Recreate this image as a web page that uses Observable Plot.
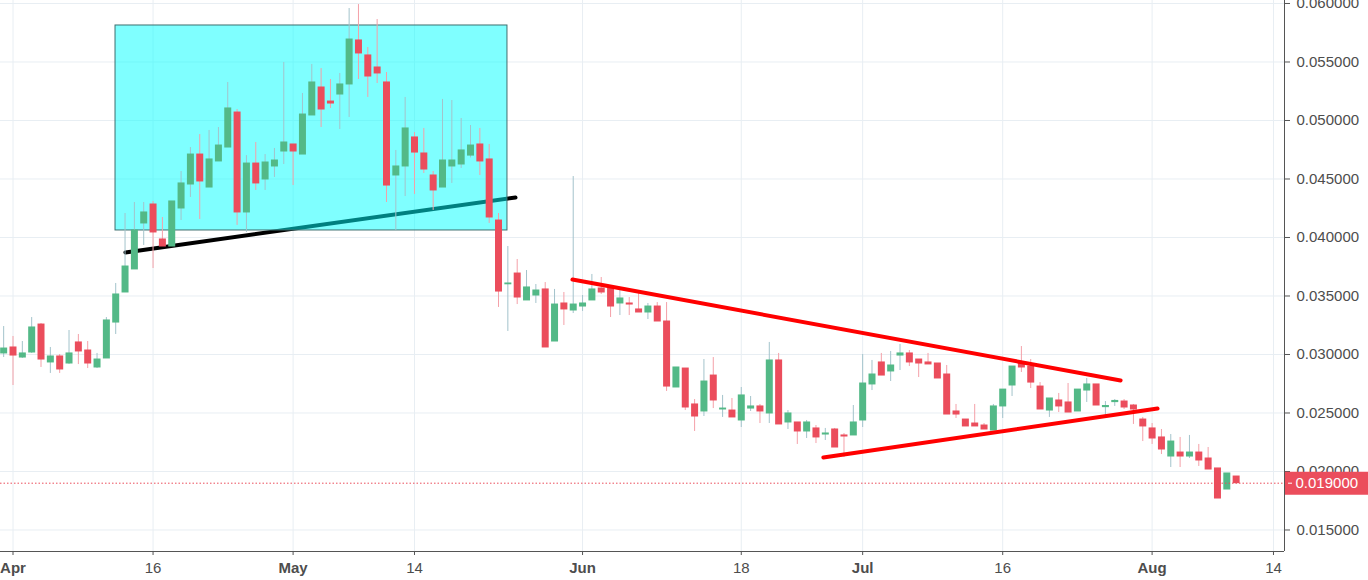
<!DOCTYPE html>
<html><head><meta charset="utf-8">
<script src="https://cdn.jsdelivr.net/npm/d3@7"></script>
<script src="https://cdn.jsdelivr.net/npm/@observablehq/plot@0.6"></script>
<style>html,body{margin:0;padding:0;background:#fff;} #chart svg{display:block}</style>
</head><body><div id="chart"></div>
<script>
// Daily candles starting 2018-03-31
const startDate = "2018-03-31";
const opens = [
0.03009,0.03060,0.02974,0.03017,0.03256,0.02932,0.02983,0.02923,0.03103,0.03034,0.02889,0.02966,0.03273,0.03530,0.03727,0.04120,0.04282,0.03983,0.03923,0.04248,0.04453,0.04709,0.04427,0.04650,0.04769,0.05068,0.04214,0.04632,0.04496,0.04607,0.04735,
0.04795,0.04709,0.05043,0.05282,0.05162,0.05222,0.05308,0.05684,0.05556,0.05453,0.05325,0.04530,0.04607,0.04855,0.04718,0.04530,0.04427,0.04607,0.04624,0.04700,0.04795,0.04667,0.04145,0.03600,0.03692,0.03462,0.03504,0.03556,0.03111,0.03436,0.03376,
0.03410,0.03462,0.03564,0.03564,0.03436,0.03436,0.03385,0.03359,0.03410,0.03282,0.02718,0.02880,0.02573,0.02513,0.02820,0.02530,0.02521,0.02436,0.02538,0.02556,0.02496,0.02949,0.02419,0.02419,0.02342,0.02368,0.02316,0.02359,0.02308,0.02308,
0.02436,0.02744,0.02932,0.02855,0.02991,0.03009,0.02957,0.02932,0.02923,0.02829,0.02513,0.02444,0.02410,0.02393,0.02350,0.02556,0.02735,0.02932,0.02897,0.02726,0.02521,0.02607,0.02590,0.02513,0.02692,0.02744,0.02550,0.02593,0.02598,0.02564,0.02444,
0.02368,0.02291,0.02128,0.02162,0.02128,0.02162,0.02111,0.02026,0.01846,0.01957];
const highs = [
0.03239,0.03154,0.03111,0.03316,0.03265,0.03060,0.03000,0.03205,0.03171,0.03111,0.03009,0.03316,0.03607,0.04205,0.04299,0.04299,0.04308,0.04171,0.04308,0.04564,0.04769,0.04880,0.04915,0.04940,0.05325,0.05094,0.04700,0.04812,0.04709,0.04761,0.05496,
0.04795,0.05231,0.05479,0.05444,0.05350,0.05402,0.05957,0.05991,0.05624,0.05863,0.05410,0.04744,0.05197,0.04897,0.04932,0.04564,0.05180,0.05171,0.05017,0.04957,0.04932,0.04795,0.04205,0.03923,0.03812,0.03718,0.03598,0.03615,0.03556,0.03530,0.04521,
0.03504,0.03684,0.03658,0.03580,0.03564,0.03487,0.03538,0.03436,0.03444,0.03444,0.02889,0.02880,0.02615,0.02957,0.02974,0.02650,0.02624,0.02718,0.02641,0.02573,0.03103,0.03009,0.02521,0.02419,0.02436,0.02393,0.02368,0.02368,0.02325,0.02564,
0.03000,0.02949,0.03009,0.03026,0.03086,0.03034,0.02957,0.03009,0.02923,0.02906,0.02573,0.02444,0.02573,0.02410,0.02573,0.02700,0.02897,0.03068,0.02957,0.02760,0.02624,0.02667,0.02752,0.02700,0.02795,0.02744,0.02598,0.02615,0.02615,0.02573,0.02462,
0.02410,0.02359,0.02316,0.02291,0.02308,0.02231,0.02205,0.02026,0.01983,0.01957];
const lows = [
0.02974,0.02735,0.02966,0.03009,0.02889,0.02838,0.02838,0.02915,0.02914,0.02880,0.02880,0.02966,0.03171,0.03530,0.03727,0.03932,0.03735,0.03923,0.03923,0.04145,0.04342,0.04154,0.04427,0.04650,0.04769,0.04103,0.04043,0.04402,0.04402,0.04513,0.04624,
0.04444,0.04709,0.05043,0.04940,0.05103,0.04923,0.05026,0.05350,0.05197,0.05316,0.04299,0.04060,0.04350,0.04368,0.04547,0.04231,0.04427,0.04462,0.04590,0.04680,0.04530,0.04120,0.03402,0.03197,0.03427,0.03462,0.03436,0.03060,0.03111,0.03248,0.03350,
0.03368,0.03462,0.03513,0.03316,0.03333,0.03333,0.03359,0.03299,0.03282,0.02684,0.02718,0.02521,0.02342,0.02470,0.02538,0.02462,0.02462,0.02376,0.02513,0.02410,0.02410,0.02402,0.02359,0.02231,0.02282,0.02239,0.02265,0.02205,0.02120,0.02308,
0.02376,0.02692,0.02820,0.02769,0.02863,0.02897,0.02803,0.02915,0.02795,0.02487,0.02453,0.02385,0.02385,0.02359,0.02350,0.02453,0.02641,0.02846,0.02709,0.02530,0.02462,0.02504,0.02504,0.02513,0.02590,0.02564,0.02470,0.02556,0.02530,0.02402,0.02256,
0.02231,0.02145,0.02034,0.02034,0.02111,0.02043,0.02017,0.01769,0.01846,0.01900];
const closes = [
0.03051,0.02991,0.03009,0.03231,0.02957,0.02983,0.02872,0.03009,0.03026,0.02923,0.02957,0.03291,0.03513,0.03752,0.04060,0.04214,0.04043,0.03923,0.04308,0.04462,0.04709,0.04479,0.04667,0.04786,0.05103,0.04214,0.04632,0.04462,0.04641,0.04658,0.04812,
0.04735,0.05051,0.05325,0.05094,0.05145,0.05308,0.05692,0.05573,0.05376,0.05402,0.04444,0.04607,0.04932,0.04726,0.04581,0.04402,0.04658,0.04658,0.04744,0.04786,0.04650,0.04171,0.03538,0.03607,0.03487,0.03573,0.03547,0.03060,0.03427,0.03385,0.03427,
0.03436,0.03556,0.03530,0.03410,0.03479,0.03427,0.03359,0.03410,0.03282,0.02726,0.02889,0.02547,0.02470,0.02769,0.02607,0.02538,0.02462,0.02650,0.02556,0.02513,0.02949,0.02402,0.02496,0.02342,0.02419,0.02291,0.02325,0.02205,0.02299,0.02419,
0.02752,0.02829,0.02820,0.02906,0.03009,0.02932,0.02923,0.02915,0.02795,0.02487,0.02487,0.02385,0.02385,0.02359,0.02556,0.02700,0.02897,0.02889,0.02760,0.02530,0.02624,0.02556,0.02504,0.02700,0.02744,0.02564,0.02560,0.02603,0.02547,0.02530,0.02385,
0.02282,0.02188,0.02256,0.02128,0.02162,0.02094,0.02017,0.01769,0.01983,0.01900];

// Axis ticks
const xTickDates = ["2018-04-01","2018-04-16","2018-05-01","2018-05-14","2018-06-01","2018-06-18","2018-07-01","2018-07-16","2018-08-01","2018-08-14"];
const xTickLabels = ["Apr","16","May","14","Jun","18","Jul","16","Aug","14"];
const yTicks = [0.015,0.020,0.025,0.030,0.035,0.040,0.045,0.050,0.055,0.060];
const lastPrice = 0.019;

// Drawn annotations (date, price)
const boxDates = ["2018-04-11T23:30Z","2018-05-23T23:00Z"];
const boxPrices = [0.05812, 0.04060];
const blackTrendDates = ["2018-04-13T01:00Z","2018-05-24T19:40Z"];
const blackTrendPrices = [0.03872, 0.04342];
const upperTrendDates = ["2018-05-30T22:00Z","2018-07-28T15:00Z"];
const upperTrendPrices = [0.03641, 0.02778];
const lowerTrendDates = ["2018-06-26T19:00Z","2018-08-01T14:00Z"];
const lowerTrendPrices = [0.02120, 0.02538];

const xDomain = [new Date("2018-03-30T15:52Z"), new Date("2018-08-15T04:19Z")];
const yDomain = [0.013162, 0.060256];

const UP = "#53b987", DOWN = "#eb4d5c", UPWICK = "#a3c3cb", DOWNWICK = "#f4a0a8";
const GRID = "#e8eef3", AXIS = "#555", TEXT = "#4d4d4d";

const start = new Date(startDate);
const dates = d3.utcDay.range(start, d3.utcDay.offset(start, opens.length));
const candles = dates.map((date, i) => ({date, o: opens[i], h: highs[i], l: lows[i], c: closes[i], up: closes[i] >= opens[i]}));
const ups = candles.filter(d => d.up), downs = candles.filter(d => !d.up);

const xTicks = xTickDates.map(s => new Date(s));
const labelMap = new Map(xTicks.map((d, i) => [+d, xTickLabels[i]]));
const toLine = (ds, ps) => ds.map((s, i) => ({date: new Date(s), value: ps[i]}));
const blackTrend = toLine(blackTrendDates, blackTrendPrices);
const upperTrend = toLine(upperTrendDates, upperTrendPrices);
const lowerTrend = toLine(lowerTrendDates, lowerTrendPrices);
const box = [{x1: new Date(boxDates[0]), x2: new Date(boxDates[1]), y1: boxPrices[0], y2: boxPrices[1]}];
const fmt = d3.format(".6f");

const chart = Plot.plot({
  width: 1368, height: 580,
  marginLeft: 0, marginRight: 84, marginTop: 0, marginBottom: 29,
  style: {fontFamily: "'Liberation Sans', Arial, sans-serif", fontSize: "15px", background: "#fff", color: TEXT},
  x: {type: "utc", domain: xDomain},
  y: {domain: yDomain},
  marks: [
    Plot.gridX(xTicks, {stroke: GRID, strokeOpacity: 1}),
    Plot.gridY(yTicks, {stroke: GRID, strokeOpacity: 1}),
    Plot.line(blackTrend, {x: "date", y: "value", stroke: "#000", strokeWidth: 4}),
    Plot.rect(box, {x1: "x1", x2: "x2", y1: "y1", y2: "y2", fill: "#00ffff", fillOpacity: 0.5, stroke: "#3e6e6e", strokeWidth: 1}),
    Plot.ruleX(ups, {x: "date", y1: "l", y2: "h", stroke: UPWICK, strokeWidth: 1}),
    Plot.ruleX(downs, {x: "date", y1: "l", y2: "h", stroke: DOWNWICK, strokeWidth: 1}),
    Plot.ruleX(ups, {x: "date", y1: "c", y2: "o", stroke: UP, strokeWidth: 7, insetTop: -0.5, insetBottom: -0.5}),
    Plot.ruleX(downs, {x: "date", y1: "o", y2: "c", stroke: DOWN, strokeWidth: 7, insetTop: -0.5, insetBottom: -0.5}),
    Plot.line(upperTrend, {x: "date", y: "value", stroke: "#ff0000", strokeWidth: 4}),
    Plot.line(lowerTrend, {x: "date", y: "value", stroke: "#ff0000", strokeWidth: 4}),
    Plot.ruleY([lastPrice], {stroke: DOWN, strokeWidth: 1, strokeDasharray: "1.5,2"}),
    Plot.ruleY([yDomain[0]], {stroke: AXIS, strokeWidth: 1}),
    Plot.ruleX([xDomain[1]], {stroke: AXIS, strokeWidth: 1}),
    Plot.axisY({ticks: yTicks, anchor: "right", tickFormat: fmt, tickSize: 5, tickPadding: 7, stroke: AXIS, fill: TEXT, fontSize: 15}),
    Plot.axisX({ticks: xTicks, anchor: "bottom", tickFormat: d => labelMap.get(+d), tickSize: 4, tickPadding: 7, stroke: AXIS, fill: TEXT, fontSize: 15}),
    Plot.ruleY([lastPrice], {x1: () => xDomain[1], x2: () => xDomain[1], insetLeft: 1, insetRight: -84, stroke: DOWN, strokeWidth: 23}),
    Plot.ruleY([lastPrice], {x1: () => xDomain[1], x2: () => xDomain[1], insetLeft: 4, insetRight: -8, stroke: "#fff", strokeWidth: 1}),
    Plot.text([lastPrice], {x: () => xDomain[1], y: d => d, text: d => fmt(d), dx: 11, textAnchor: "start", fill: "#fff", fontSize: 15})
  ]
});
d3.select(chart).selectAll('[aria-label="x-axis tick label"] text').each(function() {
  if (isNaN(+this.textContent)) d3.select(this).attr("font-weight", "bold");
});
document.getElementById("chart").append(chart);
</script>
</body></html>
